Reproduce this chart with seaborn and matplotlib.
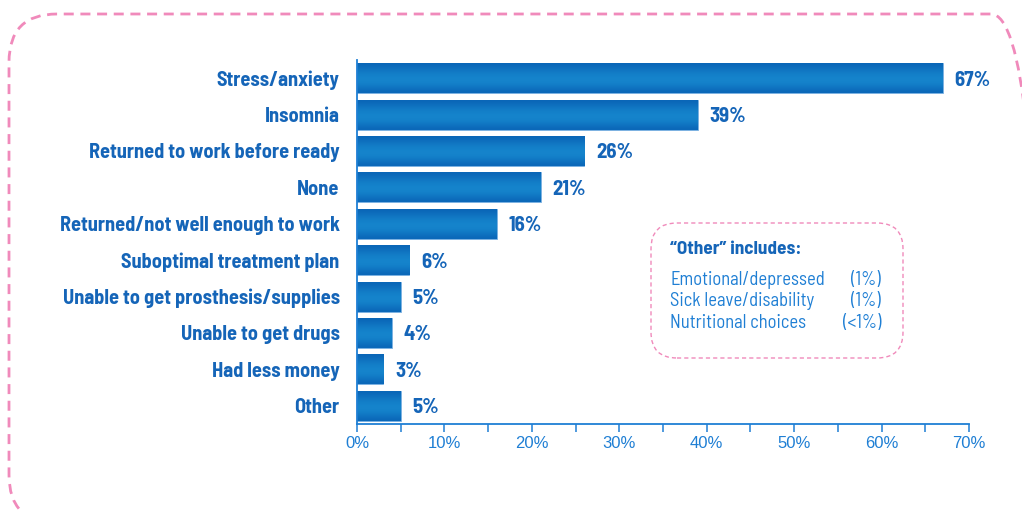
import numpy as np
import matplotlib
matplotlib.use("Agg")
import matplotlib.pyplot as plt
import seaborn as sns
from matplotlib.patches import FancyBboxPatch
from matplotlib.transforms import IdentityTransform
from matplotlib.ticker import MultipleLocator, FuncFormatter
from matplotlib.colors import LinearSegmentedColormap

categories = ["Stress/anxiety", "Insomnia", "Returned to work before ready", "None",
              "Returned/not well enough to work", "Suboptimal treatment plan",
              "Unable to get prosthesis/supplies", "Unable to get drugs",
              "Had less money", "Other"]
values = [67, 39, 26, 21, 16, 6, 5, 4, 3, 5]
value_labels = ["67%", "39%", "26%", "21%", "16%", "6%", "5%", "4%", "3%", "5%"]
x_ticks = [0, 10, 20, 30, 40, 50, 60, 70]
other_items = ["Emotional/depressed", "Sick leave/disability", "Nutritional choices"]
other_values = ["(1%)", "(1%)", "(<1%)"]

sns.set_theme(style="white")
COND = ["Barlow Semi Condensed", "DejaVu Sans"]
plt.rcParams["font.family"] = COND

DARK = "#1565b8"
LIGHT = "#1f7fd4"
PINK = "#f08abb"
LABEL_SIZE = 14.6

fig = plt.figure(figsize=(10.22, 5.11), dpi=100)
ax = fig.add_axes([357/1022, 1-424/511, (969-357)/1022, (424-60)/511])

sns.barplot(x=values, y=categories, orient="h", color="#0c70c2", width=0.82,
            ax=ax, edgecolor="#7ab2e4", linewidth=0.6)

# gradient fill for each bar (top -> bottom)
grad = np.array([0.1, 0.4, 0.65, 0.82, 0.9, 0.78, 0.5, 0.15]).reshape(-1, 1)
cmap = LinearSegmentedColormap.from_list("bar", ["#0962b5", "#1789cf"])
for p in list(ax.patches):
    x0, y0 = p.get_x(), p.get_y()
    w, h = p.get_width(), p.get_height()
    im = ax.imshow(grad, cmap=cmap, aspect="auto", extent=[x0, x0 + w, y0 + h, y0],
                   interpolation="bicubic", zorder=p.get_zorder() + 0.1, vmin=0, vmax=1)
    im.set_clip_path(p)

for i, (v, lab) in enumerate(zip(values, value_labels)):
    ax.annotate(lab, xy=(v, i), xytext=(8.5, 0), textcoords="offset points",
                ha="left", va="center_baseline", fontsize=LABEL_SIZE + 0.4,
                fontweight="bold", color=DARK)

ax.set_xlim(0, 70)
ax.set_ylim(9.5, -0.5)
ax.set_xticks(x_ticks)
ax.xaxis.set_minor_locator(MultipleLocator(5))
ax.xaxis.set_major_formatter(FuncFormatter(lambda v, p: f"{int(v)}%"))
ax.tick_params(axis="x", which="both", direction="out", length=6, width=1.1,
               color=LIGHT, labelcolor=LIGHT, labelsize=12, pad=2.5, bottom=True)
for t in ax.get_xticklabels():
    t.set_fontfamily(["Liberation Sans", "DejaVu Sans"])
ax.tick_params(axis="y", length=0, pad=12.5, labelsize=LABEL_SIZE, labelcolor=DARK)
for t in ax.get_yticklabels():
    t.set_fontweight("bold")
    t.set_verticalalignment("center_baseline")
ax.set_xlabel("")
ax.set_ylabel("")
for s in ["top", "right"]:
    ax.spines[s].set_visible(False)
for s in ["left", "bottom"]:
    ax.spines[s].set_color(LIGHT)
    ax.spines[s].set_linewidth(1.3)

# outer dashed rounded border (pixel coordinates)
outer = FancyBboxPatch((9, -12), 1030, 511 - 14 + 12,
                       boxstyle="round,pad=0,rounding_size=48",
                       transform=IdentityTransform(), fill=False, edgecolor=PINK,
                       linewidth=2.0, linestyle=(0, (3.6, 2.4)))
fig.patches.append(outer)

# inset "Other" box
inset = FancyBboxPatch((651, 511 - 358), 252, 135,
                       boxstyle="round,pad=0,rounding_size=26",
                       transform=IdentityTransform(), fill=False, edgecolor=PINK,
                       linewidth=1.0, linestyle=(0, (3, 2.2)))
fig.patches.append(inset)

fig.text(670/1022, 1 - 250/511, "\u201cOther\u201d includes:", ha="left", va="center",
         fontsize=13.8, fontweight="bold", color=DARK)
for k, (it, vv) in enumerate(zip(other_items, other_values)):
    yy = 1 - (280 + 21.5 * k) / 511
    fig.text(670/1022, yy, it, ha="left", va="center", fontsize=13.4, color=LIGHT)
    fig.text(881/1022, yy, vv, ha="right", va="center", fontsize=13.4, color=LIGHT)

fig.savefig("out.png", dpi=100)
